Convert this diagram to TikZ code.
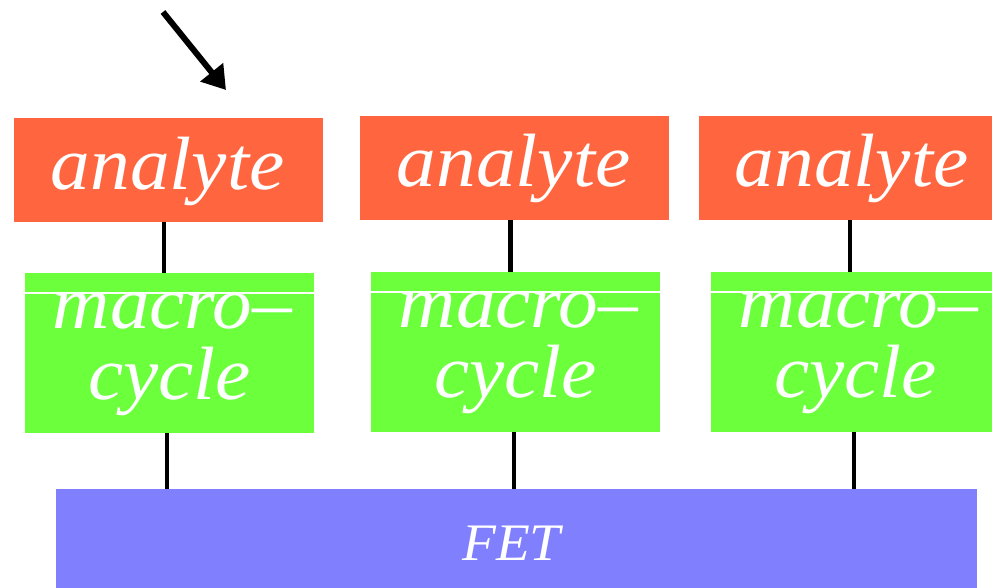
\documentclass[tikz,border=0pt]{standalone}
\usepackage{fontspec}
\setmainfont{Liberation Serif}
\usetikzlibrary{arrows.meta,calc}
\definecolor{analytefill}{HTML}{FF6640}
\definecolor{macrofill}{HTML}{6CFF3C}
\definecolor{fetfill}{HTML}{8080FF}
\begin{document}
\begin{tikzpicture}[x=0.02cm,y=-0.02cm,
  box/.style={inner sep=0pt, outer sep=0pt, anchor=north west},
  analytebox/.style={box, fill=analytefill, minimum width={309*0.02cm},
    minimum height={104*0.02cm}},
  macrobox/.style={box, fill=macrofill, minimum width={289*0.02cm},
    minimum height={160*0.02cm}},
  fetbox/.style={box, fill=fetfill, minimum width={921*0.02cm},
    minimum height={99*0.02cm}},
  lbl/.style={inner sep=0pt, anchor=base, text=white, xscale=1.05,
    font=\fontsize{43}{50}\selectfont\itshape},
  fetlbl/.style={lbl, font=\fontsize{30}{36}\selectfont\itshape},
  link/.style={draw=black, line width=2.3pt},
  rim/.style={draw=white, line width=0.6pt},
  pointer/.style={draw=black, line width=3.4pt,
    -{Triangle[length=13pt,width=16pt]}}
]
\useasboundingbox (0,0) rectangle (992,588);
\clip (0,0) rectangle (992,588);

% analyte layer
\node[analytebox] (a1) at (14,118) {};
\node[analytebox] (a2) at (360,116) {};
\node[analytebox] (a3) at (699,116) {};
\node[lbl] (a1t) at ($(a1.north)+(-1,72)$) {analyte};
\node[lbl] (a2t) at ($(a2.north)+(-1,71)$) {analyte};
\node[lbl] (a3t) at ($(a3.north)+(-2,71)$) {analyte};

% macrocycle layer
\node[macrobox] (m1) at (25,273) {};
\node[macrobox] (m2) at (371,272) {};
\node[macrobox] (m3) at (711,272) {};
\foreach \m in {m1,m2,m3}{
  \draw[rim] ($(\m.north west)+(0,20)$) -- ($(\m.north east)+(0,20)$);
  \node[lbl] (\m a) at ($(\m.north)+(3,56)$) {macro–};
  \node[lbl] (\m b) at ($(\m.north)+(0,126)$) {cycle};
}

% transistor
\node[fetbox] (fet) at (56,489) {};
\node[fetlbl] (fett) at ($(fet.north)+(-5,71)$) {FET};

% links analyte -> macrocycle
\draw[link] ([xshift=-0.09cm]a1.south) -- ([xshift=-0.09cm]a1.south |- m1.north);
\draw[link] ([xshift=-0.08cm]a2.south) -- ([xshift=-0.08cm]a2.south |- m2.north);
\draw[link] ([xshift=-0.07cm]a3.south) -- ([xshift=-0.07cm]a3.south |- m3.north);

% links macrocycle -> FET
\draw[link] ([xshift=-0.05cm]m1.south) -- ([xshift=-0.05cm]m1.south |- fet.north);
\draw[link] ([xshift=-0.03cm]m2.south) -- ([xshift=-0.03cm]m2.south |- fet.north);
\draw[link] ([xshift=-0.03cm]m3.south) -- ([xshift=-0.03cm]m3.south |- fet.north);

% incoming analyte arrow
\coordinate (arrowtail) at (163,12);
\coordinate (arrowtip) at (226,90);
\draw[pointer] (arrowtail) -- (arrowtip);
\end{tikzpicture}
\end{document}
